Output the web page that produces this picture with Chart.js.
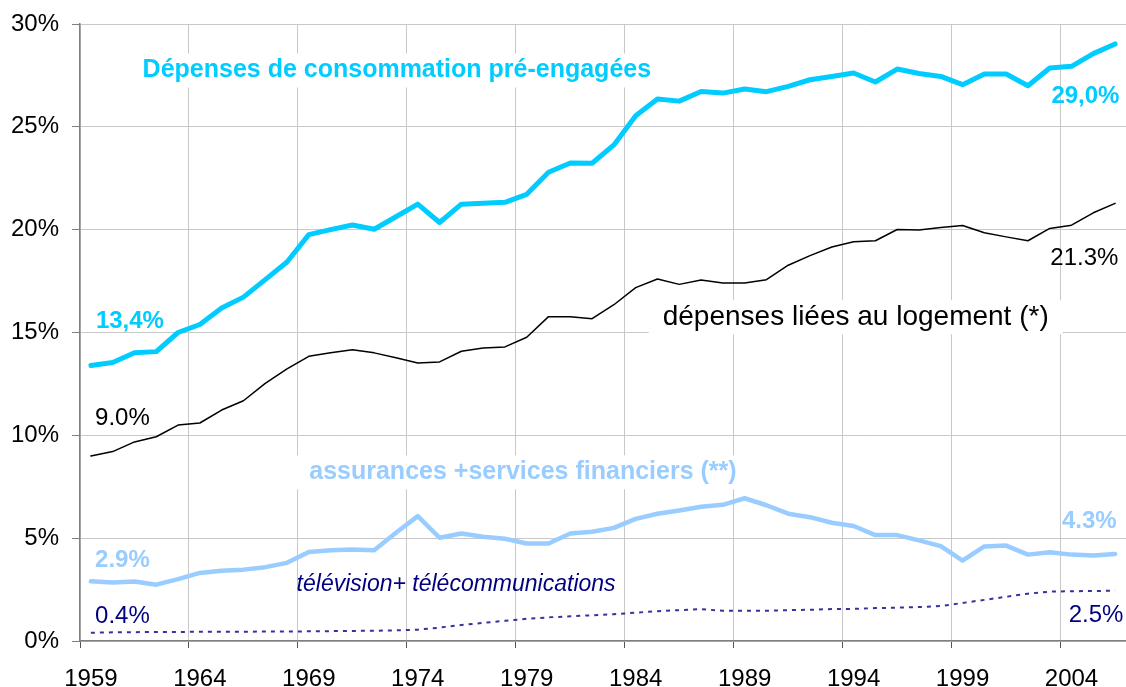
<!DOCTYPE html>
<html>
<head>
<meta charset="utf-8">
<script src="https://cdn.jsdelivr.net/npm/chart.js@4"></script>
<style>
  body { margin: 0; background: #fff; }
</style>
</head>
<body>
<canvas id="chart" width="1126" height="687"></canvas>
<script>
const years = [
  "1959", "1960", "1961", "1962", "1963", "1964", "1965", "1966", "1967", "1968",
  "1969", "1970", "1971", "1972", "1973", "1974", "1975", "1976", "1977", "1978",
  "1979", "1980", "1981", "1982", "1983", "1984", "1985", "1986", "1987", "1988",
  "1989", "1990", "1991", "1992", "1993", "1994", "1995", "1996", "1997", "1998",
  "1999", "2000", "2001", "2002", "2003", "2004", "2005", "2006",
];
const tickYears = ["1959", "1964", "1969", "1974", "1979", "1984", "1989", "1994", "1999", "2004"];

// parts of household spending, in %
const preEngagees = [
  13.4, 13.54, 14.02, 14.07, 15.0, 15.39, 16.19, 16.72, 17.57, 18.43,
  19.76, 20.0, 20.23, 20.02, 20.63, 21.24, 20.35, 21.24, 21.28, 21.33,
  21.72, 22.79, 23.24, 23.23, 24.12, 25.54, 26.35, 26.25, 26.72, 26.64,
  26.84, 26.71, 26.97, 27.29, 27.45, 27.62, 27.18, 27.81, 27.59, 27.45,
  27.05, 27.57, 27.57, 27.0, 27.86, 27.94, 28.56, 29.03,
];
const logement = [
  9.0, 9.21, 9.68, 9.93, 10.5, 10.6, 11.23, 11.68, 12.53, 13.23,
  13.84, 14.01, 14.16, 14.01, 13.77, 13.52, 13.57, 14.09, 14.25, 14.3,
  14.77, 15.77, 15.77, 15.67, 16.35, 17.18, 17.6, 17.34, 17.55, 17.41,
  17.41, 17.57, 18.27, 18.74, 19.16, 19.41, 19.46, 20.01, 19.98, 20.11,
  20.2, 19.85, 19.65, 19.46, 20.06, 20.22, 20.82, 21.28,
];
const assurances = [
  2.9, 2.85, 2.89, 2.74, 3.01, 3.31, 3.42, 3.47, 3.59, 3.8,
  4.33, 4.41, 4.45, 4.41, 5.26, 6.07, 5.02, 5.23, 5.07, 4.97,
  4.74, 4.74, 5.23, 5.31, 5.5, 5.94, 6.19, 6.35, 6.53, 6.62,
  6.94, 6.6, 6.19, 6.02, 5.75, 5.59, 5.15, 5.15, 4.89, 4.61,
  3.91, 4.6, 4.64, 4.2, 4.32, 4.2, 4.16, 4.23,
];
const televisionTelecom = [
  0.4, 0.42, 0.43, 0.44, 0.44, 0.45, 0.45, 0.45, 0.46, 0.46,
  0.47, 0.48, 0.49, 0.5, 0.52, 0.55, 0.65, 0.78, 0.88, 0.98,
  1.08, 1.15, 1.2, 1.25, 1.3, 1.38, 1.45, 1.5, 1.55, 1.47,
  1.47, 1.47, 1.5, 1.52, 1.55, 1.56, 1.6, 1.62, 1.65, 1.7,
  1.85, 2.0, 2.15, 2.3, 2.4, 2.42, 2.43, 2.45,
];

const CYAN = "#00CCFF";
const LIGHT = "#99CCFF";
const NAVY = "#000080";
const FONT = "'Liberation Sans', Arial, sans-serif";

// text labels placed in data units: year (fractional) and percent
const notes = [
  { text: "Dépenses de consommation pré-engagées", year: 1973.04, value: 27.74, color: CYAN, font: "bold 25px", align: "center", bg: true },
  { text: "13,4%", year: 1959.23, value: 15.52, color: CYAN, font: "bold 24px", align: "left" },
  { text: "29,0%", year: 2006.2, value: 26.5, color: CYAN, font: "bold 24px", align: "right" },
  { text: "dépenses liées au logement (*)", year: 1985.24, value: 15.74, color: "#000", font: "28px", align: "left", bg: true },
  { text: "9.0%", year: 1959.19, value: 10.83, color: "#000", font: "24px", align: "left" },
  { text: "21.3%", year: 2006.15, value: 18.62, color: "#000", font: "24px", align: "right" },
  { text: "assurances +services financiers (**)", year: 1969.02, value: 8.2, color: LIGHT, font: "bold 25px", align: "left", bg: true },
  { text: "2.9%", year: 1959.19, value: 3.94, color: LIGHT, font: "bold 24px", align: "left" },
  { text: "4.3%", year: 2006.07, value: 5.81, color: LIGHT, font: "bold 24px", align: "right" },
  { text: "télévision+ télécommunications", year: 1968.44, value: 2.72, color: NAVY, font: "italic 23px", align: "left" },
  { text: "0.4%", year: 1959.19, value: 1.18, color: NAVY, font: "24px", align: "left" },
  { text: "2.5%", year: 2006.38, value: 1.27, color: NAVY, font: "24px", align: "right" },
];

function notePos(chart, note) {
  const x = chart.scales.x.getPixelForValue(note.year - Number(years[0]));
  const y = chart.scales.y.getPixelForValue(note.value);
  return { x, y };
}

const notesPlugin = {
  id: "notesPlugin",
  beforeDatasetsDraw(chart) {
    const { ctx } = chart;
    ctx.save();
    notes.filter((n) => n.bg).forEach((n) => {
      ctx.font = `${n.font} ${FONT}`;
      const w = ctx.measureText(n.text).width;
      const { x, y } = notePos(chart, n);
      let left = x;
      if (n.align === "center") left = x - w / 2;
      if (n.align === "right") left = x - w;
      ctx.fillStyle = "#fff";
      ctx.fillRect(left - 14, y - 17, w + 28, 34);
    });
    ctx.restore();
  },
  afterDatasetsDraw(chart) {
    const { ctx } = chart;
    ctx.save();
    ctx.textBaseline = "middle";
    notes.forEach((n) => {
      const { x, y } = notePos(chart, n);
      ctx.font = `${n.font} ${FONT}`;
      ctx.fillStyle = n.color;
      ctx.textAlign = n.align;
      ctx.fillText(n.text, x, y);
    });
    ctx.restore();
  },
};

const lineDefaults = {
  tension: 0,
  pointRadius: 0,
  borderJoinStyle: "round",
  borderCapStyle: "round",
  fill: false,
};

new Chart("chart", {
  type: "line",
  data: {
    labels: years,
    datasets: [
      { ...lineDefaults, label: "télévision+ télécommunications", data: televisionTelecom, borderColor: "#333399", borderWidth: 2, borderDash: [4, 5], borderCapStyle: "butt" },
      { ...lineDefaults, label: "assurances +services financiers (**)", data: assurances, borderColor: LIGHT, borderWidth: 4.5 },
      { ...lineDefaults, label: "dépenses liées au logement (*)", data: logement, borderColor: "#000", borderWidth: 1.5 },
      { ...lineDefaults, label: "Dépenses de consommation pré-engagées", data: preEngagees, borderColor: CYAN, borderWidth: 5 },
    ],
  },
  plugins: [notesPlugin],
  options: {
    responsive: false,
    animation: false,
    layout: { padding: { top: 24, right: 0, left: 0, bottom: 0 } },
    plugins: {
      legend: { display: false },
      tooltip: { enabled: false },
    },
    scales: {
      x: {
        type: "category",
        offset: true,
        grid: {
          offset: true,
          color: (c) => (c.index % 5 === 0 ? "#c8c8c8" : "transparent"),
          tickColor: (c) => (c.index % 5 === 0 ? "#555" : "transparent"),
          tickLength: 7,
        },
        border: { color: "#808080", width: 1.5 },
        ticks: {
          autoSkip: false,
          maxRotation: 0,
          padding: 17,
          color: "#000",
          font: { family: FONT, size: 24 },
          callback: (v, i) => (tickYears.includes(years[i]) ? years[i] : ""),
        },
        afterFit: (scale) => {
          scale.height = 46;
          scale.paddingLeft = 0;
          scale.paddingRight = 0;
        },
      },
      y: {
        min: 0,
        max: 30,
        grid: { color: "#c8c8c8", tickColor: "#808080", tickLength: 8 },
        border: { color: "#808080", width: 1.5 },
        ticks: {
          stepSize: 5,
          padding: 13,
          color: "#000",
          font: { family: FONT, size: 24 },
          callback: (v) => v + "%",
        },
        afterFit: (scale) => {
          scale.width = 80;
          scale.paddingTop = 0;
          scale.paddingBottom = 0;
        },
      },
    },
  },
});
</script>
</body>
</html>
